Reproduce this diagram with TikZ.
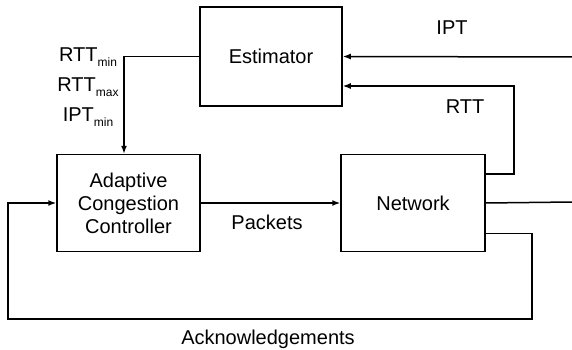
\documentclass[tikz,border=0pt]{standalone}
\usepackage{fontspec}
\setmainfont{Liberation Sans}
\usetikzlibrary{arrows.meta,calc}

\tikzset{
  blk/.style={draw, line width=1.5pt, inner sep=0pt, align=center, font=\fontsize{20}{23}\selectfont},
  txt/.style={font=\fontsize{20}{23}\selectfont},
  ln/.style={line width=1.5pt},
  arr/.style={line width=1.5pt, -{Latex[length=8pt,width=6pt]}},
}
\newcommand{\subtxt}[1]{\raisebox{-0.5ex}{\fontsize{12}{12}\selectfont #1}}

\begin{document}
\begin{tikzpicture}[x=1pt,y=-1pt]
\useasboundingbox (0,0) rectangle (572,350);
% blocks
\node[blk, minimum width=142pt, minimum height=99pt] (est) at (271,56.5) {Estimator};
\node[blk, minimum width=143pt, minimum height=97pt] (ctrl) at (128.5,203) {Adaptive\\Congestion\\Controller};
\node[blk, minimum width=144pt, minimum height=97pt] (net) at (413,203) {Network};
% free ends
\coordinate (ipt) at (572,57);
\coordinate (out) at (572,202);
\coordinate (ackr) at (532,319);
\coordinate (ackl) at (8,319);
% connectors
\draw[arr] (est.west) -| ($(ctrl.north)+(-4.5,0)$);
\draw[arr] (ipt) -- (est.east);
\draw[arr] ($(net.north east)+(0,20)$) -- ++(28,0) |- ($(est.east)+(0,29.5)$);
\draw[arr] (ctrl.east) -- (net.west);
\draw[ln] (net.east) -- (out);
\draw[arr] ($(net.south east)+(0,-19)$) -| (ackr) -- (ackl) |- (ctrl.west);
% labels
\node[txt, align=center, font=\fontsize{20}{30}\selectfont] (params) at (88,87) {RTT\subtxt{min}\\RTT\subtxt{max}\\IPT\subtxt{min}};
\node[txt] (iptlbl) at (452,28) {IPT};
\node[txt] (rttlbl) at (465,107) {RTT};
\node[txt] (pktlbl) at (267,222) {Packets};
\node[txt] (acklbl) at (268,339) {Acknowledgements};
\end{tikzpicture}
\end{document}
